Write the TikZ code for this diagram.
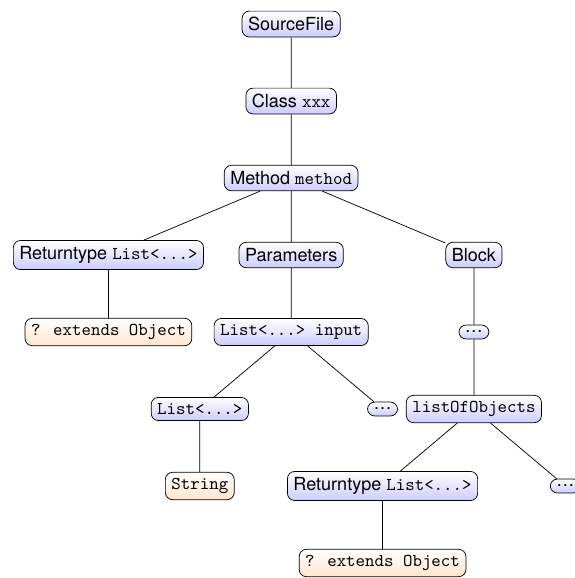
\documentclass[tikz,border=0pt]{standalone}
\usepackage{fontspec}
\setmainfont{TeX Gyre Heros}
\usetikzlibrary{positioning,shapes}

\begin{document}
\begin{tikzpicture}[xscale=1.78,yscale=1.5]
    \tikzstyle{elem} = [draw, rounded corners, top color=white,
    bottom color=blue!20]
    \tikzstyle{leaf} = [draw, rounded corners, top color=white,
    bottom color=orange!20]

    \useasboundingbox (-3.187,0.312) rectangle (3.099,-7.195);

    \draw
    (0,0) node [elem] (src) {SourceFile}
    (0,-1) node [elem] (cls) {Class \texttt{xxx}}
    (0,-2) node [elem] (mth) {Method \texttt{method}}

    (-2,-3) node [elem] (ret) {Returntype \texttt{List<...>}}
    (0,-3) node [elem] (par) {Parameters}
    (2,-3) node [elem] (blk) {Block}

    (-2,-4) node [leaf] (ext) {\texttt{? extends Object}}
    (0,-4) node [elem] (inp) {\texttt{List<...> input}}
    (2,-4) node [elem] (bd) {\dots}

    (-1,-5) node [elem] (lst) {\texttt{List<...>}}
    (1,-5) node [elem] (pd) {\dots}
    (2,-5) node [elem] (obj) {\texttt{listOfObjects}}

    (-1,-6) node [leaf] (str) {\texttt{String}}
    (1,-6) node [elem] (ret2) {Returntype \texttt{List<...>}}
    (3,-6) node [elem] (od) {\dots}

    (1,-7) node [leaf] (ext2) {\texttt{? extends Object}}

    (src)--(cls)--(mth)
    (mth)--(ret) (mth)--(par) (mth)--(blk)
    (ret)--(ext)
    (par)--(inp)
    (blk)--(bd)--(obj)
    (inp)--(lst) (inp)--(pd)
    (lst)--(str)
    (obj)--(ret2) (obj)--(od)
    (ret2)--(ext2)
;

  \end{tikzpicture}
\end{document}
